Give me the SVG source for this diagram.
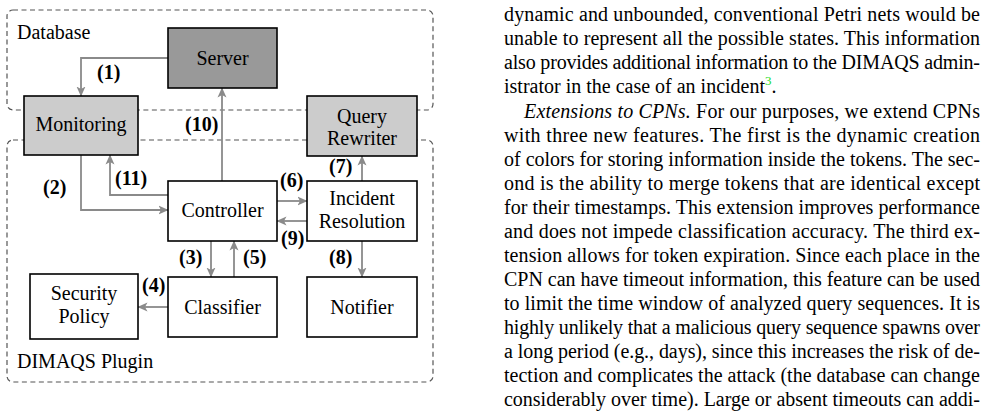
<svg xmlns="http://www.w3.org/2000/svg" width="994" height="418" viewBox="0 0 994 418">
<style>
.grp{fill:none;stroke:#555;stroke-width:1.2;stroke-dasharray:5 3.5}
.box{stroke:#000;stroke-width:1.6}
.white{fill:#fff}
.light{fill:#cccccc}
.dark{fill:#999999}
text{font-family:'Liberation Serif','DejaVu Serif',serif;font-size:20px;fill:#000}
.lbl{text-anchor:middle}
.num{font-weight:bold}
.conn{fill:none;stroke:#8a8a8a;stroke-width:1.8;marker-end:url(#ah)}
.it{font-style:italic}
.fn{fill:#22dd22;font-size:13px}
</style>
<defs>
<marker id="ah" viewBox="0 0 10 10" markerWidth="10" markerHeight="10" refX="9.5" refY="5" orient="auto" markerUnits="userSpaceOnUse">
<path d="M0,0.5 L10,5 L0,9.5 L2.5,5 z" fill="#8a8a8a"/>
</marker>
</defs>
<rect width="994" height="418" fill="#fff"/>

<g id="group-database">
<rect class="grp" x="7" y="10" width="426" height="100" rx="6"/>
<text x="17" y="39" font-family="Liberation Serif, serif">Database</text>
</g>
<g id="group-plugin">
<rect class="grp" x="7" y="140" width="426" height="242" rx="6"/>
<text x="17" y="368">DIMAQS Plugin</text>
</g>

<g id="connectors">
<path class="conn" d="M168,58 H81 V96"/>
<path class="conn" d="M222,181 V88"/>
<path class="conn" d="M81,155 V210 H168"/>
<path class="conn" d="M168,195 H110 V155"/>
<path class="conn" d="M277,201 H307"/>
<path class="conn" d="M307,221 H277"/>
<path class="conn" d="M362,181 V156"/>
<path class="conn" d="M211,241 V277"/>
<path class="conn" d="M234,277 V241"/>
<path class="conn" d="M362,241 V277"/>
<path class="conn" d="M168,307 H138"/>
<text class="num" x="97" y="79">(1)</text>
<text class="num" x="185" y="131">(10)</text>
<text class="num" x="43" y="194">(2)</text>
<text class="num" x="115" y="185">(11)</text>
<text class="num" x="280" y="187">(6)</text>
<text class="num" x="329" y="173">(7)</text>
<text class="num" x="281" y="245">(9)</text>
<text class="num" x="179" y="264">(3)</text>
<text class="num" x="243" y="264">(5)</text>
<text class="num" x="329" y="264">(8)</text>
<text class="num" x="142" y="292">(4)</text>
</g>

<g id="server">
<rect class="box dark" x="168" y="28" width="109" height="60"/>
<text class="lbl" x="222.5" y="65">Server</text>
</g>
<g id="monitoring">
<rect class="box light" x="24" y="96" width="114" height="59"/>
<text class="lbl" x="81" y="131">Monitoring</text>
</g>
<g id="query-rewriter">
<rect class="box light" x="307" y="96" width="110" height="60"/>
<text class="lbl" x="362" y="123">Query</text>
<text class="lbl" x="362" y="145">Rewriter</text>
</g>
<g id="controller">
<rect class="box white" x="168" y="181" width="109" height="60"/>
<text class="lbl" x="222.5" y="217">Controller</text>
</g>
<g id="incident-resolution">
<rect class="box white" x="307" y="181" width="110" height="60"/>
<text class="lbl" x="362" y="205">Incident</text>
<text class="lbl" x="362" y="228">Resolution</text>
</g>
<g id="classifier">
<rect class="box white" x="168" y="277" width="109" height="60"/>
<text class="lbl" x="222.5" y="314">Classifier</text>
</g>
<g id="notifier">
<rect class="box white" x="307" y="277" width="110" height="60"/>
<text class="lbl" x="362" y="314">Notifier</text>
</g>
<g id="security-policy">
<rect class="box white" x="30" y="274" width="108" height="65"/>
<text class="lbl" x="84" y="300">Security</text>
<text class="lbl" x="84" y="323">Policy</text>
</g>

<g id="body-text">
<text x="504" y="21" textLength="476" lengthAdjust="spacing">dynamic and unbounded, conventional Petri nets would be</text>
<text x="504" y="45" textLength="476" lengthAdjust="spacing">unable to represent all the possible states. This information</text>
<text x="504" y="69" textLength="476" lengthAdjust="spacing">also provides additional information to the DIMAQS admin-</text>
<text x="504" y="93">istrator in the case of an incident<tspan class="fn" dy="-8">3</tspan><tspan dy="8">.</tspan></text>
<text x="524" y="118" textLength="456" lengthAdjust="spacing"><tspan class="it">Extensions to CPNs.</tspan> For our purposes, we extend CPNs</text>
<text x="504" y="142" textLength="476" lengthAdjust="spacing">with three new features. The first is the dynamic creation</text>
<text x="504" y="166" textLength="476" lengthAdjust="spacing">of colors for storing information inside the tokens. The sec-</text>
<text x="504" y="190" textLength="476" lengthAdjust="spacing">ond is the ability to merge tokens that are identical except</text>
<text x="504" y="214" textLength="476" lengthAdjust="spacing">for their timestamps. This extension improves performance</text>
<text x="504" y="238" textLength="476" lengthAdjust="spacing">and does not impede classification accuracy. The third ex-</text>
<text x="504" y="262" textLength="476" lengthAdjust="spacing">tension allows for token expiration. Since each place in the</text>
<text x="504" y="286" textLength="476" lengthAdjust="spacing">CPN can have timeout information, this feature can be used</text>
<text x="504" y="310" textLength="476" lengthAdjust="spacing">to limit the time window of analyzed query sequences. It is</text>
<text x="504" y="334" textLength="476" lengthAdjust="spacing">highly unlikely that a malicious query sequence spawns over</text>
<text x="504" y="358" textLength="476" lengthAdjust="spacing">a long period (e.g., days), since this increases the risk of de-</text>
<text x="504" y="382" textLength="476" lengthAdjust="spacing">tection and complicates the attack (the database can change</text>
<text x="504" y="406" textLength="476" lengthAdjust="spacing">considerably over time). Large or absent timeouts can addi-</text>
</g>
</svg>
